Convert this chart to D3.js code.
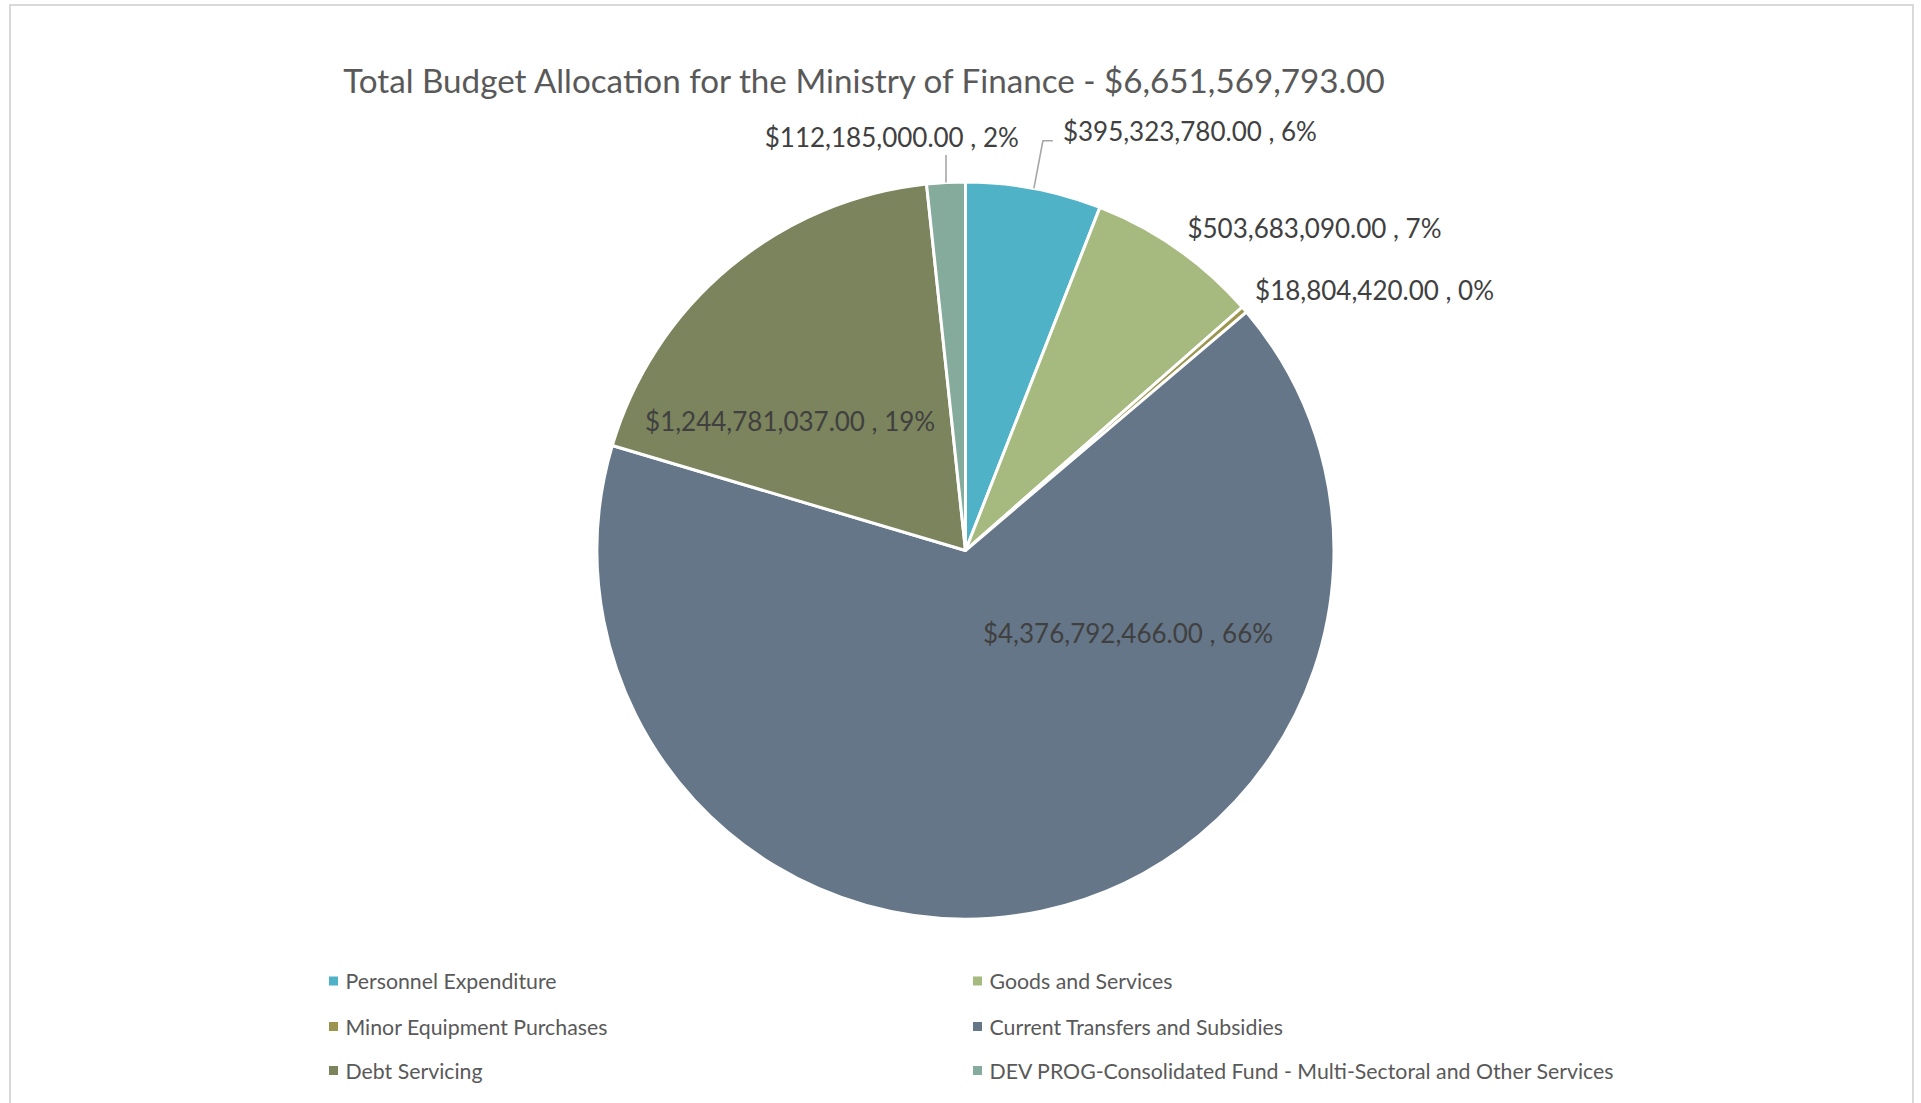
<!DOCTYPE html>
<html>
<head>
<meta charset="utf-8">
<script src="https://cdn.jsdelivr.net/npm/d3@7"></script>
<style>
  html, body { margin: 0; padding: 0; background: #fff; overflow: hidden; }
  svg { display: block; font-family: Lato, "Open Sans", sans-serif; }
</style>
</head>
<body>
<svg id="chart" width="1921" height="1103"></svg>
<script>
// Ministry of Finance budget allocation by expenditure type
const titleText = "Total Budget Allocation for the Ministry of Finance - $6,651,569,793.00";
const categories = [
  "Personnel Expenditure",
  "Goods and Services",
  "Minor Equipment Purchases",
  "Current Transfers and Subsidies",
  "Debt Servicing",
  "DEV PROG-Consolidated Fund - Multi-Sectoral and Other Services"
];
const values = [395323780, 503683090, 18804420, 4376792466, 1244781037, 112185000];
const percentLabels = ["6%", "7%", "0%", "66%", "19%", "2%"];
const palette = ["#4fb2c7", "#a6b97f", "#9c9550", "#657688", "#7b845c", "#84ab9c"];

const W = 1921, H = 1103;
const cx = 965.5, cy = 550.5, R = 368.5;

const svg = d3.select("#chart");

// chart area frame (open at the bottom edge of the window)
svg.append("path")
  .attr("d", `M10,${H + 2} L10,5 L1913,5 L1913,${H + 2}`)
  .attr("fill", "none")
  .attr("stroke", "#d9d9d9")
  .attr("stroke-width", 2);

svg.append("text")
  .attr("x", 864)
  .attr("y", 80)
  .attr("text-anchor", "middle")
  .attr("dominant-baseline", "central")
  .attr("fill", "#595959")
  .attr("font-size", 33.2)
  .text(titleText);

const data = categories.map((c, i) => ({ name: c, value: values[i], pct: percentLabels[i] }));
const color = d3.scaleOrdinal().domain(categories).range(palette);
const money = d3.format(",.2f");

const pie = d3.pie().sort(null).value(d => d.value);
const arcs = pie(data);
const arc = d3.arc().innerRadius(0).outerRadius(R);

const g = svg.append("g").attr("transform", `translate(${cx},${cy})`);

g.selectAll("path.slice")
  .data(arcs)
  .join("path")
  .attr("class", "slice")
  .attr("d", arc)
  .attr("fill", d => color(d.data.name))
  .attr("stroke", "#fff")
  .attr("stroke-width", 3)
  .attr("stroke-linejoin", "round");

// label placement, as offsets in units of the pie radius
const labelPlace = [
  { dx: 0.609, dy: -1.139, leader: "elbow" },
  { dx: 0.947, dy: -0.875, leader: null },
  { dx: 1.110, dy: -0.706, leader: null },
  { dx: 0.441, dy: 0.224, leader: null },
  { dx: -0.476, dy: -0.352, leader: null },
  { dx: -0.200, dy: -1.122, leader: "vertical" }
];

const labels = g.selectAll("text.lbl")
  .data(arcs)
  .join("text")
  .attr("class", "lbl")
  .attr("x", (d, i) => labelPlace[i].dx * R)
  .attr("y", (d, i) => labelPlace[i].dy * R)
  .attr("text-anchor", "middle")
  .attr("dominant-baseline", "central")
  .attr("fill", "#404040")
  .attr("font-size", 26)
  .text(d => `$${money(d.data.value)} , ${d.data.pct}`);

// leader lines from the slice edge to the outside labels
const edge = d => {
  const a = (d.startAngle + d.endAngle) / 2;
  return [Math.sin(a) * R, -Math.cos(a) * R];
};
labels.each(function (d, i) {
  const kind = labelPlace[i].leader;
  if (!kind) return;
  const bb = this.getBBox();
  const [ex, ey] = edge(d);
  let pts;
  if (kind === "vertical") {
    pts = [[ex, ey], [ex, bb.y + bb.height + 2]];
  } else {
    const ly = bb.y + bb.height / 2 + 10;
    pts = [[ex, ey], [bb.x - 20, ly], [bb.x - 10, ly]];
  }
  g.append("path")
    .attr("d", d3.line()(pts))
    .attr("fill", "none")
    .attr("stroke", "#a6a6a6")
    .attr("stroke-width", 1.6);
});

// legend: two columns, three rows
const legCols = [333.5, 977.5];
const legRows = [981, 1026.5, 1070.5];
const leg = svg.selectAll("g.leg")
  .data(data)
  .join("g")
  .attr("class", "leg")
  .attr("transform", (d, i) => `translate(${legCols[i % 2]},${legRows[Math.floor(i / 2)]})`);
leg.append("rect")
  .attr("x", -4.5).attr("y", -4.5)
  .attr("width", 9).attr("height", 9)
  .attr("fill", d => color(d.name));
leg.append("text")
  .attr("x", 12)
  .attr("dominant-baseline", "central")
  .attr("fill", "#595959")
  .attr("font-size", 21.3)
  .text(d => d.name);
</script>
</body>
</html>
